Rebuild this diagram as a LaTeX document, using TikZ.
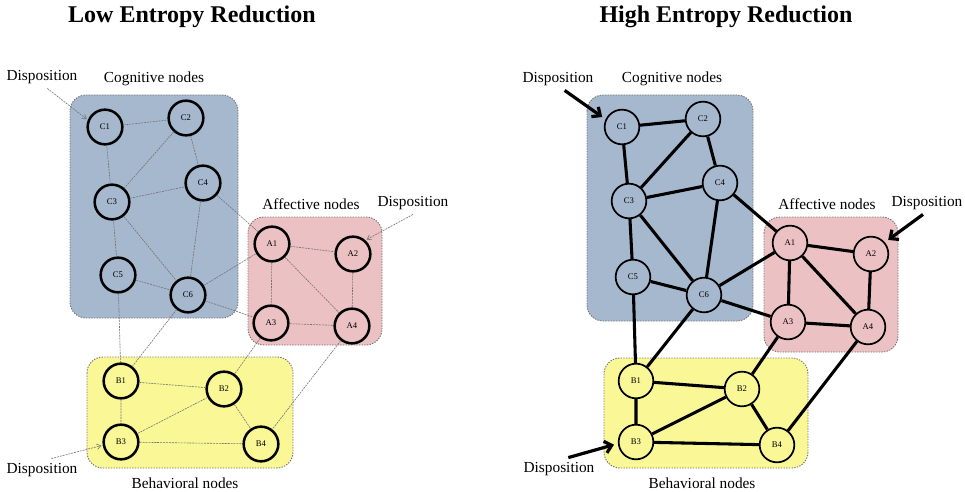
\documentclass[tikz,border=0pt]{standalone}
\usepackage{fontspec}
\setmainfont{Liberation Serif}
\usetikzlibrary{arrows.meta,positioning}

\begin{document}
\begin{tikzpicture}[x=0.75pt, y=-0.75pt,
    cnode/.style={circle, draw, minimum size=26pt, inner sep=0pt, font=\fontsize{6.5}{7}\selectfont},
    lownode/.style={cnode, line width=1.9pt},
    highnode/.style={cnode, line width=1.3pt},
    lowedge/.style={draw=black!55, line width=0.45pt, dash pattern=on 1.5pt off 0.7pt},
    highedge/.style={draw=black, line width=2.3pt},
    grp/.style={draw=black!55, line width=0.7pt, dash pattern=on 1pt off 1pt, rounded corners=12pt},
    lbl/.style={font=\fontsize{11.5}{13}\selectfont},
    lowarrow/.style={draw=black!55, line width=0.45pt, dash pattern=on 1.5pt off 0.7pt, -{Straight Barb[length=3pt,width=4pt]}, shorten >=1pt},
    higharrow/.style={draw=black, line width=2.4pt, -{Straight Barb[length=5pt,width=9pt]}, shorten >=3pt}]
    % Define the group colours
    \definecolor{cogblue}{RGB}{165,184,206}
    \definecolor{affpink}{RGB}{236,193,196}
    \definecolor{behyellow}{RGB}{250,247,150}

    \useasboundingbox (0,0) rectangle (965,492);

    % Titles
    \node[font=\fontsize{18}{20}\selectfont\bfseries] (lowtitle) at (192,17) {Low Entropy Reduction};
    \node[font=\fontsize{18}{20}\selectfont\bfseries] (hightitle) at (726,17) {High Entropy Reduction};

    % ---------- Low entropy reduction ----------
    % Group boxes
    \draw[grp, fill=cogblue] (70,95) rectangle (238,318);
    \draw[grp, fill=affpink] (248,217) rectangle (382,345);
    \draw[grp, fill=behyellow] (87,357) rectangle (293,468);

    \node[lbl] (lcoglabel) at (154,79) {Cognitive nodes};
    \node[lbl] (lafflabel) at (311,204) {Affective nodes};
    \node[lbl] (lbehlabel) at (185,483) {Behavioral nodes};

    % Cognitive nodes
    \node[lownode, fill=cogblue] (lc1) at (105,127) {C1};
    \node[lownode, fill=cogblue] (lc2) at (186,118) {C2};
    \node[lownode, fill=cogblue] (lc3) at (112,202) {C3};
    \node[lownode, fill=cogblue] (lc4) at (203,183) {C4};
    \node[lownode, fill=cogblue] (lc5) at (118,275) {C5};
    \node[lownode, fill=cogblue] (lc6) at (188,295) {C6};

    % Affective nodes
    \node[lownode, fill=affpink] (la1) at (272,244) {A1};
    \node[lownode, fill=affpink] (la2) at (353,254) {A2};
    \node[lownode, fill=affpink] (la3) at (271,323) {A3};
    \node[lownode, fill=affpink] (la4) at (352,326) {A4};

    % Behavioral nodes
    \node[lownode, fill=behyellow] (lb1) at (121,381) {B1};
    \node[lownode, fill=behyellow] (lb2) at (224,389) {B2};
    \node[lownode, fill=behyellow] (lb3) at (121,442) {B3};
    \node[lownode, fill=behyellow] (lb4) at (261,444) {B4};

    % Connecting lines
    \draw[lowedge] (lc1) -- (lc2) (lc1) -- (lc3) (lc2) -- (lc3) (lc2) -- (lc4)
        (lc3) -- (lc4) (lc3) -- (lc5) (lc3) -- (lc6) (lc4) -- (lc6) (lc5) -- (lc6);
    \draw[lowedge] (la1) -- (la2) (la1) -- (la3) (la1) -- (la4) (la2) -- (la4) (la3) -- (la4);
    \draw[lowedge] (lb1) -- (lb2) (lb1) -- (lb3) (lb2) -- (lb3) (lb2) -- (lb4) (lb3) -- (lb4);
    \draw[lowedge] (lc4) -- (la1) (lc6) -- (la1) (lc6) -- (la3) (lc5) -- (lb1) (lc6) -- (lb1)
        (la3) -- (lb2) (la4) -- (lb4);

    % Dispositions
    \node[lbl] (ldcog) at (42,77) {Disposition};
    \node[lbl] (ldaff) at (413,203) {Disposition};
    \node[lbl] (ldbeh) at (42,470) {Disposition};
    \draw[lowarrow] ([xshift=4pt]ldcog.south) -- (lc1.158);
    \draw[lowarrow] (ldaff.south) -- (la2.48);
    \draw[lowarrow] ([xshift=7pt]ldbeh.north) -- (lb3.190);

    % ---------- High entropy reduction ----------
    % Group boxes
    \draw[grp, fill=cogblue] (587,95) rectangle (753,321);
    \draw[grp, fill=affpink] (764,217) rectangle (898,352);
    \draw[grp, fill=behyellow] (604,358) rectangle (808,468);

    \node[lbl] (hcoglabel) at (672,79) {Cognitive nodes};
    \node[lbl] (hafflabel) at (827,204) {Affective nodes};
    \node[lbl] (hbehlabel) at (702,483) {Behavioral nodes};

    % Cognitive nodes
    \node[highnode, fill=cogblue] (hc1) at (622,127) {C1};
    \node[highnode, fill=cogblue] (hc2) at (703,119) {C2};
    \node[highnode, fill=cogblue] (hc3) at (629,201) {C3};
    \node[highnode, fill=cogblue] (hc4) at (720,183) {C4};
    \node[highnode, fill=cogblue] (hc5) at (633,277) {C5};
    \node[highnode, fill=cogblue] (hc6) at (704,295) {C6};

    % Affective nodes
    \node[highnode, fill=affpink] (ha1) at (790,243) {A1};
    \node[highnode, fill=affpink] (ha2) at (871,254) {A2};
    \node[highnode, fill=affpink] (ha3) at (788,322) {A3};
    \node[highnode, fill=affpink] (ha4) at (868,327) {A4};

    % Behavioral nodes
    \node[highnode, fill=behyellow] (hb1) at (636,381) {B1};
    \node[highnode, fill=behyellow] (hb2) at (742,389) {B2};
    \node[highnode, fill=behyellow] (hb3) at (636,442) {B3};
    \node[highnode, fill=behyellow] (hb4) at (777,445) {B4};

    % Connecting lines
    \draw[highedge] (hc1) -- (hc2) (hc1) -- (hc3) (hc2) -- (hc3) (hc2) -- (hc4)
        (hc3) -- (hc4) (hc3) -- (hc5) (hc3) -- (hc6) (hc4) -- (hc6) (hc5) -- (hc6);
    \draw[highedge] (ha1) -- (ha2) (ha1) -- (ha3) (ha1) -- (ha4) (ha2) -- (ha4) (ha3) -- (ha4);
    \draw[highedge] (hb1) -- (hb2) (hb1) -- (hb3) (hb2) -- (hb3) (hb2) -- (hb4) (hb3) -- (hb4);
    \draw[highedge] (hc4) -- (ha1) (hc6) -- (ha1) (hc6) -- (ha3) (hc5) -- (hb1) (hc6) -- (hb1)
        (ha3) -- (hb2) (ha4) -- (hb4);

    % Dispositions
    \node[lbl] (hdcog) at (558,79) {Disposition};
    \node[lbl] (hdaff) at (927,203) {Disposition};
    \node[lbl] (hdbeh) at (559,469) {Disposition};
    \draw[higharrow] ([xshift=5pt]hdcog.south) -- (hc1.155);
    \draw[higharrow] ([xshift=-3pt]hdaff.south) -- (ha2.40);
    \draw[higharrow] ([xshift=7pt]hdbeh.north) -- (hb3.185);
\end{tikzpicture}
\end{document}
